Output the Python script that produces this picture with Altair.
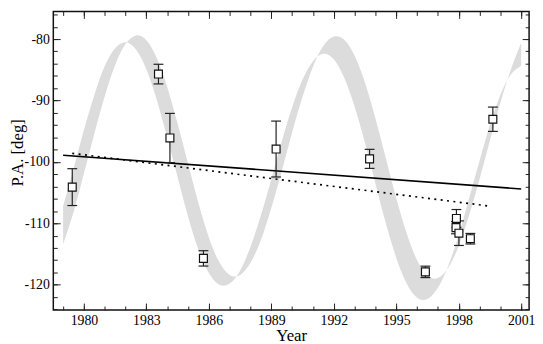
import altair as alt
import pandas as pd

# ---- data ----
band_year = [1979.0, 1979.5, 1980.0, 1980.5, 1981.0, 1981.5, 1982.0, 1982.5, 1983.0, 1983.5,
             1984.0, 1984.5, 1985.0, 1985.5, 1986.0, 1986.5, 1987.0, 1987.5, 1988.0, 1988.5,
             1989.0, 1989.5, 1990.0, 1990.5, 1991.0, 1991.5, 1992.0, 1992.5, 1993.0, 1993.5,
             1994.0, 1994.5, 1995.0, 1995.5, 1996.0, 1996.5, 1997.0, 1997.5, 1998.0, 1998.5,
             1999.0, 1999.5, 2000.0, 2000.5, 2001.0]
band_early = [-107.2, -101.1, -94.8, -89.1, -84.4, -81.5, -80.5, -81.7, -84.9, -89.9,
              -96.0, -102.5, -108.9, -114.3, -118.1, -120.0, -119.8, -117.7, -113.8, -108.7,
              -102.8, -96.7, -91.1, -86.6, -83.6, -82.4, -83.3, -86.3, -91.0, -96.9,
              -103.5, -110.0, -115.6, -119.8, -122.1, -122.3, -120.5, -116.9, -111.9, -105.9,
              -99.8, -94.0, -89.1, -85.8, -84.4]
band_late = [-113.4, -108.2, -101.9, -95.4, -89.3, -84.2, -80.8, -79.4, -80.2, -83.1,
             -87.8, -93.8, -100.3, -106.7, -112.3, -116.3, -118.4, -118.4, -116.4, -112.7,
             -107.5, -101.5, -95.2, -89.4, -84.5, -81.1, -79.6, -80.1, -82.7, -87.1,
             -92.9, -99.4, -105.9, -111.6, -116.0, -118.5, -118.9, -117.2, -113.7, -108.7,
             -102.8, -96.5, -90.4, -85.0, -80.6]

pt_year = [1979.44, 1983.58, 1984.13, 1985.74, 1989.23, 1993.72, 1996.40, 1997.89, 1997.87, 1998.01, 1998.56, 1999.64]
pt_pa = [-104.1, -85.7, -96.1, -115.7, -97.9, -99.5, -117.9, -109.2, -110.7, -111.6, -112.5, -93.05]
pt_err = [3.0, 1.6, 4.0, 1.25, 4.55, 1.55, 0.93, 1.45, 1.0, 2.0, 0.86, 1.98]

solid_year = [1979.0, 2001.0]
solid_pa = [-98.9, -104.4]
dot_year = [1979.44, 1999.5]
dot_pa = [-98.6, -107.2]

x_major = [1980, 1983, 1986, 1989, 1992, 1995, 1998, 2001]
x_minor = list(range(1979, 2002))
y_major = [-120, -110, -100, -90, -80]
y_minor = list(range(-124, -75, 2))

# ---- layout ----
W, H = 483, 303
X_DOMAIN = [1978.53, 2001.38]
Y_DOMAIN = [-124.1, -75.51]
FONT = "Liberation Serif"

xs = alt.Scale(domain=X_DOMAIN, nice=False, zero=False)
ys = alt.Scale(domain=Y_DOMAIN, nice=False, zero=False)

band_df = pd.DataFrame({"year": band_year, "e": band_early, "l": band_late})
pts_df = pd.DataFrame({"year": pt_year, "pa": pt_pa, "err": pt_err})
pts_df["lo"] = pts_df["pa"] - pts_df["err"]
pts_df["hi"] = pts_df["pa"] + pts_df["err"]
caps_df = pd.DataFrame({"year": pt_year + pt_year,
                        "cap": list(pts_df["lo"]) + list(pts_df["hi"])})
solid_df = pd.DataFrame({"year": solid_year, "pa": solid_pa})
dot_df = pd.DataFrame({"year": dot_year, "pa": dot_pa})


def tick_axis(orient, values, size, offset):
    return alt.Axis(orient=orient, values=values, tickSize=size, offset=offset,
                    labels=False, domain=False, grid=False, title="",
                    tickColor="#222", tickWidth=1)


ax_x_lab = alt.Axis(orient="bottom", values=x_major, format="d", ticks=False, tickSize=0,
                    domain=False, grid=False, labelFont=FONT, labelFontSize=14,
                    labelColor="black", labelPadding=4, title="Year", titleFont=FONT,
                    titleFontSize=17, titleFontWeight="normal", titleColor="black",
                    titleY=30.5, titleBaseline="alphabetic")
ax_y_lab = alt.Axis(orient="left", values=y_major, ticks=False, tickSize=0, domain=False,
                    grid=False, labelFont=FONT, labelFontSize=14, labelColor="black",
                    labelPadding=4, labelExpr="'-' + (-datum.value)",
                    title="P.A. [deg]", titleFont=FONT, titleFontSize=17,
                    titleFontWeight="normal", titleColor="black", titleX=-31, titleY=143,
                    titleBaseline="alphabetic", titleAngle=270)

band = alt.Chart(band_df).mark_area(color="#dcdcdc", interpolate="natural", opacity=1).encode(
    x=alt.X("year:Q", scale=xs, axis=ax_x_lab),
    y=alt.Y("e:Q", scale=ys, axis=ax_y_lab),
    y2=alt.Y2("l:Q"),
)

solid = alt.Chart(solid_df).mark_line(color="black", strokeWidth=1.6).encode(
    x=alt.X("year:Q", scale=xs, axis=tick_axis("top", x_major, 7, -H)),
    y=alt.Y("pa:Q", scale=ys, axis=tick_axis("right", y_major, 7, -W)),
)

dotted = alt.Chart(dot_df).mark_line(color="black", strokeWidth=1.7, strokeDash=[2, 4.5]).encode(
    x=alt.X("year:Q", scale=xs, axis=tick_axis("top", x_minor, 4, -H)),
    y=alt.Y("pa:Q", scale=ys, axis=tick_axis("right", y_minor, 4, -W)),
)

rules = alt.Chart(pts_df).mark_rule(color="#222", strokeWidth=1.2).encode(
    x=alt.X("year:Q", scale=xs, axis=tick_axis("bottom", x_major, 7, -H)),
    y=alt.Y("lo:Q", scale=ys, axis=tick_axis("left", y_major, 7, -W)),
    y2=alt.Y2("hi:Q"),
)

caps = alt.Chart(caps_df).mark_point(shape="M-1,0H1", size=100, filled=False, color="#222",
                                     strokeWidth=1.2, opacity=1).encode(
    x=alt.X("year:Q", scale=xs, axis=tick_axis("bottom", x_minor, 4, -H)),
    y=alt.Y("cap:Q", scale=ys, axis=tick_axis("left", y_minor, 4, -W)),
)

squares = alt.Chart(pts_df).mark_point(shape="square", size=64, filled=True, fill="white",
                                        stroke="#111", strokeWidth=1.2, opacity=1).encode(
    x=alt.X("year:Q", scale=xs, axis=None),
    y=alt.Y("pa:Q", scale=ys, axis=None),
)

chart = alt.layer(band, solid, dotted, rules, caps, squares).resolve_axis(
    x="independent", y="independent"
).properties(
    width=W, height=H,
    autosize=alt.AutoSizeParams(type="none"),
    padding={"left": 46, "top": 1, "right": 6, "bottom": 32},
).configure_view(stroke="#111", strokeWidth=1.5).configure_axis(
    labelFont=FONT, titleFont=FONT
)

chart.save("out.html", embed_options={"renderer": "svg", "actions": False})
